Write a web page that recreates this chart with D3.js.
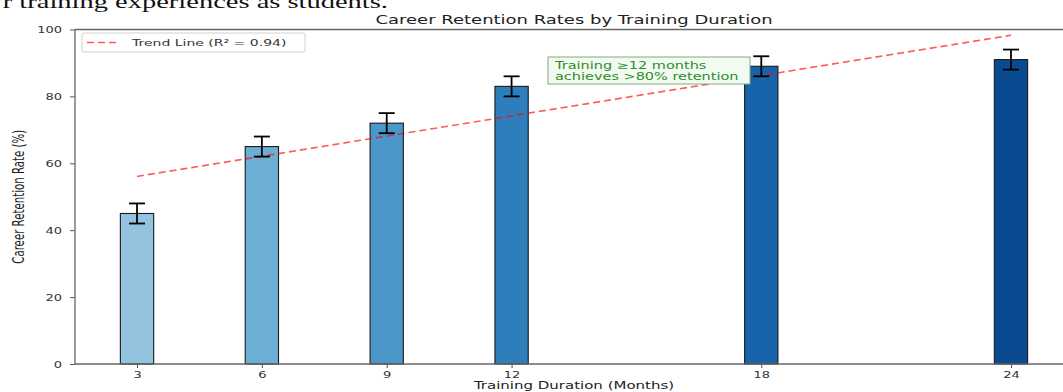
<!DOCTYPE html>
<html>
<head>
<meta charset="utf-8">
<script src="https://cdn.jsdelivr.net/npm/d3@7/dist/d3.min.js"></script>
<style>
  html, body { margin: 0; padding: 0; background: #fff; }
  svg { display: block; }
</style>
</head>
<body>
<svg id="chart" width="1063" height="392"></svg>
<script>
// ---- data ----
const months = [3, 6, 9, 12, 18, 24];
const retention = [45, 65, 72, 83, 89, 91];
const errors = [3, 3, 3, 3, 3, 3];
const yTickValues = [0, 20, 40, 60, 80, 100];
const xTickLabels = ["3", "6", "9", "12", "18", "24"];
const r2Text = "0.94";
const titleText = "Career Retention Rates by Training Duration";
const xLabelText = "Training Duration (Months)";
const yLabelText = "Career Retention Rate (%)";
const legendText = "Trend Line (R\u00B2 = " + r2Text + ")";
const noteLines = ["Training \u226512 months", "achieves >80% retention"];
const pageText = "r training experiences as students.";

// ---- layout ----
const plotL = 75, plotR = 1073, plotT = 29.5, plotB = 364;
const SQ = 0.68; // vertical squeeze of text
const FONT = "'DejaVu Sans', sans-serif";

const svg = d3.select("#chart");

const x = d3.scaleLinear().domain([1.51, 25.49]).range([plotL, plotR]);
const y = d3.scaleLinear().domain([0, 100]).range([plotB, plotT]);
const barW = x(0.8) - x(0);

function label(parent, px, py, str, size, opts = {}) {
  const g = parent.append("g")
    .attr("transform", `translate(${px},${py}) scale(1,${SQ})` + (opts.rotate ? ` rotate(${opts.rotate})` : ""));
  g.append("text")
    .attr("x", 0).attr("y", 0)
    .attr("text-anchor", opts.anchor || "start")
    .attr("font-family", opts.family || FONT)
    .attr("font-size", size)
    .attr("fill", opts.fill || "#222")
    .text(str);
  return g;
}

// page text cut at top (fragment of surrounding page, as in the reference)
label(svg, 388, 7.5, pageText, 28.5, { anchor: "end", family: "'Liberation Serif', 'Times New Roman', serif", fill: "#111" });

// title
label(svg, (plotL + plotR) / 2, 23.5, titleText, 18, { anchor: "middle", fill: "#222" });

// bars
const color = i => d3.interpolateBlues(0.4 + 0.1 * i);
const plot = svg.append("g");
plot.selectAll("rect.bar")
  .data(months)
  .join("rect")
  .attr("class", "bar")
  .attr("x", d => x(d) - barW / 2)
  .attr("width", barW)
  .attr("y", (d, i) => y(retention[i]))
  .attr("height", (d, i) => y(0) - y(retention[i]))
  .attr("fill", (d, i) => color(i))
  .attr("stroke", "#1a1a1a")
  .attr("stroke-width", 1.1);

// trend line (least squares)
const mx = d3.mean(months), my = d3.mean(retention);
const slope = d3.sum(months, (m, i) => (m - mx) * (retention[i] - my)) / d3.sum(months, m => (m - mx) ** 2);
const intercept = my - slope * mx;
const trendPts = [d3.min(months), d3.max(months)].map(m => [m, intercept + slope * m]);
plot.append("path")
  .datum(trendPts)
  .attr("d", d3.line().x(d => x(d[0])).y(d => y(d[1])))
  .attr("fill", "none")
  .attr("stroke", "#ff0000")
  .attr("stroke-opacity", 0.65)
  .attr("stroke-width", 1.6)
  .attr("stroke-dasharray", "7,4");

// error bars
const capW = 16;
const eb = plot.selectAll("g.err").data(months).join("g").attr("class", "err");
eb.append("line")
  .attr("x1", d => x(d)).attr("x2", d => x(d))
  .attr("y1", (d, i) => y(retention[i] - errors[i]))
  .attr("y2", (d, i) => y(retention[i] + errors[i]))
  .attr("stroke", "#000").attr("stroke-width", 1.8);
eb.append("line")
  .attr("x1", d => x(d) - capW / 2).attr("x2", d => x(d) + capW / 2)
  .attr("y1", (d, i) => y(retention[i] + errors[i]))
  .attr("y2", (d, i) => y(retention[i] + errors[i]))
  .attr("stroke", "#000").attr("stroke-width", 1.8);
eb.append("line")
  .attr("x1", d => x(d) - capW / 2).attr("x2", d => x(d) + capW / 2)
  .attr("y1", (d, i) => y(retention[i] - errors[i]))
  .attr("y2", (d, i) => y(retention[i] - errors[i]))
  .attr("stroke", "#000").attr("stroke-width", 1.8);

// axes
const yAxis = svg.append("g").attr("transform", `translate(${plotL},0)`)
  .call(d3.axisLeft(y).tickValues(yTickValues).tickSize(5).tickFormat(d3.format("d")));
yAxis.select(".domain").remove();
yAxis.selectAll(".tick line").attr("stroke", "#555");
yAxis.selectAll(".tick text")
  .attr("x", 0).attr("dy", null).attr("y", 0)
  .attr("transform", `translate(-13,3.2) scale(1,${SQ})`)
  .attr("font-family", FONT).attr("font-size", 13).attr("fill", "#333");

const xAxis = svg.append("g").attr("transform", `translate(0,${plotB})`)
  .call(d3.axisBottom(x).tickValues(months).tickSize(4).tickFormat((d, i) => xTickLabels[i]));
xAxis.select(".domain").remove();
xAxis.selectAll(".tick line").attr("stroke", "#555");
xAxis.selectAll(".tick text")
  .attr("y", 0).attr("dy", null)
  .attr("transform", `translate(0,14) scale(1,${SQ})`)
  .attr("font-family", FONT).attr("font-size", 13).attr("fill", "#333");

// spines
const sp = svg.append("g").attr("stroke", "#666").attr("stroke-width", 1.3).attr("fill", "none");
sp.append("line").attr("x1", plotL).attr("x2", plotL).attr("y1", plotT).attr("y2", plotB);
sp.append("line").attr("x1", plotL).attr("x2", plotR).attr("y1", plotB).attr("y2", plotB);
sp.append("line").attr("x1", plotL).attr("x2", plotR).attr("y1", plotT).attr("y2", plotT);
sp.append("line").attr("x1", plotR).attr("x2", plotR).attr("y1", plotT).attr("y2", plotB);

// axis labels
label(svg, (plotL + plotR) / 2, 389.4, xLabelText, 15, { anchor: "middle", fill: "#222" });
label(svg, 24, (plotT + plotB) / 2, yLabelText, 15, { anchor: "middle", rotate: -90, fill: "#222" });

// legend
const lg = svg.append("g");
lg.append("rect").attr("x", 82).attr("y", 33).attr("width", 223).attr("height", 19)
  .attr("rx", 2).attr("fill", "#fff").attr("fill-opacity", 0.85)
  .attr("stroke", "#d0d0d0").attr("stroke-width", 1);
lg.append("line").attr("x1", 87).attr("x2", 118).attr("y1", 42.5).attr("y2", 42.5)
  .attr("stroke", "#ff0000").attr("stroke-opacity", 0.65).attr("stroke-width", 1.6)
  .attr("stroke-dasharray", "7,4");
label(lg, 132, 46, legendText, 14, { fill: "#333" });

// annotation
const an = svg.append("g");
an.append("rect").attr("x", 548).attr("y", 57).attr("width", 202).attr("height", 27)
  .attr("fill", "#f2fbf0").attr("stroke", "#86a886").attr("stroke-width", 1);
noteLines.forEach((t, i) => label(an, 555, 68.5 + i * 11, t, 14.5, { fill: "#2e8b2e" }));
</script>
</body>
</html>
